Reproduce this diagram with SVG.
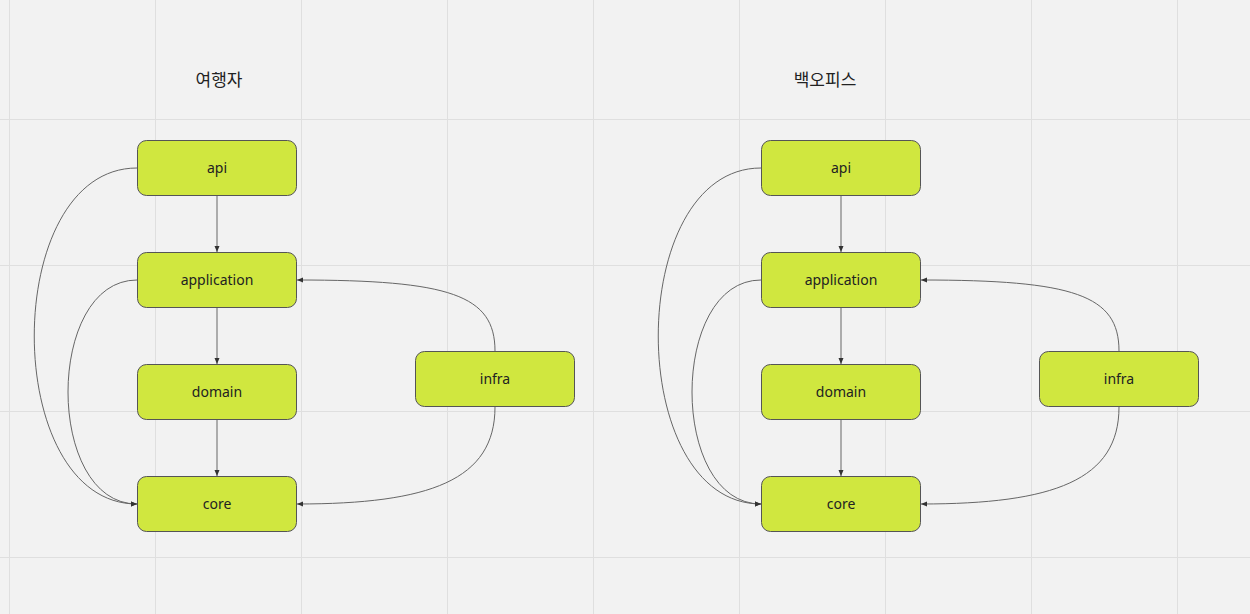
<svg xmlns="http://www.w3.org/2000/svg" width="1250" height="614" viewBox="0 0 1250 614">
<style>
.bg{fill:#f2f2f2}
.grid line{stroke:#dfdfdf;stroke-width:1}
.node rect{fill:#d0e73f;stroke:#555;stroke-width:1}
.node text{font-family:"Noto Sans","Open Sans",sans-serif;font-size:14px;fill:#222;text-anchor:middle}
.title{font-family:"Noto Sans CJK KR","Noto Sans",sans-serif;font-size:17px;fill:#222;text-anchor:middle}
.conn path{fill:none;stroke:#666;stroke-width:1;marker-end:url(#arr)}
</style>
<defs>
<marker id="arr" viewBox="0 0 6 6" refX="6" refY="3" markerWidth="6" markerHeight="6" markerUnits="userSpaceOnUse" orient="auto">
<path d="M0,0.5 L6,3 L0,5.5 Z" fill="#333"/>
</marker>
</defs>
<rect class="bg" x="0" y="0" width="1250" height="614"/>
<g class="grid">
<line x1="9.5" y1="0" x2="9.5" y2="614"/>
<line x1="155.5" y1="0" x2="155.5" y2="614"/>
<line x1="301.5" y1="0" x2="301.5" y2="614"/>
<line x1="447.5" y1="0" x2="447.5" y2="614"/>
<line x1="593.5" y1="0" x2="593.5" y2="614"/>
<line x1="739.5" y1="0" x2="739.5" y2="614"/>
<line x1="885.5" y1="0" x2="885.5" y2="614"/>
<line x1="1031.5" y1="0" x2="1031.5" y2="614"/>
<line x1="1177.5" y1="0" x2="1177.5" y2="614"/>
<line x1="0" y1="119.5" x2="1250" y2="119.5"/>
<line x1="0" y1="265.5" x2="1250" y2="265.5"/>
<line x1="0" y1="411.5" x2="1250" y2="411.5"/>
<line x1="0" y1="557.5" x2="1250" y2="557.5"/>
</g>
<text class="title" x="219" y="86">여행자</text>
<text class="title" x="825" y="86">백오피스</text>
<g class="conn">
<path d="M217,196 L217,252"/>
<path d="M217,308 L217,364"/>
<path d="M217,420 L217,476"/>
<path d="M137,168 C0,168 0,504 137,504"/>
<path d="M137,280 C45,280 45,504 137,504"/>
<path d="M495,351 C495,295 450,280 297,280"/>
<path d="M495,407 C495,480 430,504 297,504"/>
<path d="M841,196 L841,252"/>
<path d="M841,308 L841,364"/>
<path d="M841,420 L841,476"/>
<path d="M761,168 C624,168 624,504 761,504"/>
<path d="M761,280 C669,280 669,504 761,504"/>
<path d="M1119,351 C1119,295 1074,280 921,280"/>
<path d="M1119,407 C1119,480 1054,504 921,504"/>
</g>
<g id="l-api" class="node"><rect x="137.5" y="140.5" width="159" height="55" rx="9"/><text x="217" y="173">api</text></g>
<g id="l-application" class="node"><rect x="137.5" y="252.5" width="159" height="55" rx="9"/><text x="217" y="285">application</text></g>
<g id="l-domain" class="node"><rect x="137.5" y="364.5" width="159" height="55" rx="9"/><text x="217" y="397">domain</text></g>
<g id="l-core" class="node"><rect x="137.5" y="476.5" width="159" height="55" rx="9"/><text x="217" y="509">core</text></g>
<g id="l-infra" class="node"><rect x="415.5" y="351.5" width="159" height="55" rx="9"/><text x="495" y="384">infra</text></g>
<g id="r-api" class="node"><rect x="761.5" y="140.5" width="159" height="55" rx="9"/><text x="841" y="173">api</text></g>
<g id="r-application" class="node"><rect x="761.5" y="252.5" width="159" height="55" rx="9"/><text x="841" y="285">application</text></g>
<g id="r-domain" class="node"><rect x="761.5" y="364.5" width="159" height="55" rx="9"/><text x="841" y="397">domain</text></g>
<g id="r-core" class="node"><rect x="761.5" y="476.5" width="159" height="55" rx="9"/><text x="841" y="509">core</text></g>
<g id="r-infra" class="node"><rect x="1039.5" y="351.5" width="159" height="55" rx="9"/><text x="1119" y="384">infra</text></g>
</svg>
